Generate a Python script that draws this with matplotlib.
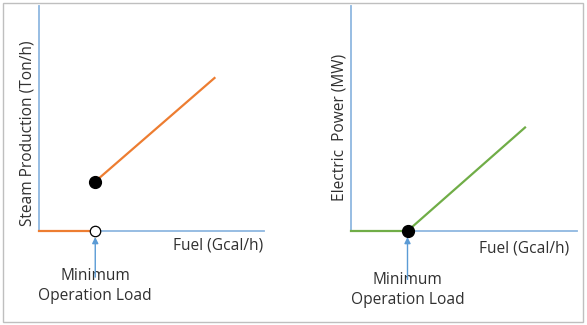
import matplotlib.pyplot as plt
from matplotlib.patches import Rectangle

plt.rcParams['font.family'] = ['Open Sans', 'DejaVu Sans']

# steam boiler: below minimum load there is no steam, then it jumps
steam_off_fuel = [0, 2.5]
steam_off_value = [0, 0]
steam_on_fuel = [2.5, 7.8]
steam_on_value = [2.2, 6.8]

# turbine: electric power starts from zero at minimum load
power_fuel = [0, 2.5, 7.7]
power_value = [0, 0, 4.6]

min_load = 2.5

orange = '#ED7D31'
green = '#70AD47'
axis_blue = '#8FB8E0'
arrow_blue = '#5B9BD5'
text_color = '#303030'
fs = 11.2

fig = plt.figure(figsize=(5.87, 3.25), dpi=100)
fig.patches.append(Rectangle((3 / 587, 3 / 325), 580 / 587, 319 / 325, transform=fig.transFigure,
                             fill=False, edgecolor='#BFBFBF', lw=1.0))

ax1 = fig.add_axes([39 / 587, 94 / 325, 225 / 587, 225 / 325])
ax2 = fig.add_axes([351 / 587, 94 / 325, 226 / 587, 225 / 325])


def style_axes(ax):
    ax.set_xlim(0, 10)
    ax.set_ylim(0, 10)
    for s in ['top', 'right']:
        ax.spines[s].set_visible(False)
    for s in ['left', 'bottom']:
        ax.spines[s].set_color(axis_blue)
        ax.spines[s].set_linewidth(1.3)
    ax.set_xticks([])
    ax.set_yticks([])
    ax.patch.set_alpha(0)


def min_load_label(ax, text_y, tail_y):
    ax.text(min_load, text_y, 'Minimum\nOperation Load', transform=ax.get_xaxis_transform(),
            ha='center', va='top', fontsize=fs, color=text_color, linespacing=1.3, zorder=2)
    ax.annotate('', xy=(min_load, -0.027), xytext=(min_load, tail_y),
                xycoords=('data', 'axes fraction'), textcoords=('data', 'axes fraction'),
                arrowprops=dict(arrowstyle='-|>', color=arrow_blue, lw=1.0, mutation_scale=9,
                                shrinkA=0, shrinkB=0), annotation_clip=False, zorder=3)


# left panel: steam production
style_axes(ax1)
ax1.plot(steam_off_fuel, steam_off_value, color=orange, lw=1.6, clip_on=False, zorder=3)
ax1.plot(steam_on_fuel, steam_on_value, color=orange, lw=1.6, zorder=3)
ax1.plot([steam_on_fuel[0]], [steam_on_value[0]], 'o', color='black', ms=8.5, zorder=4)
ax1.plot([steam_off_fuel[-1]], [steam_off_value[-1]], 'o', mfc='white', mec='black', mew=0.9,
         ms=7.5, clip_on=False, zorder=4)
ax1.text(0.995, -0.063, 'Fuel (Gcal/h)', transform=ax1.transAxes, ha='right', va='center',
         fontsize=fs, color=text_color)
ax1.text(-0.053, 0.436, 'Steam Production (Ton/h)', transform=ax1.transAxes, ha='center',
         va='center', rotation=90, fontsize=fs, color=text_color)
min_load_label(ax1, -0.165, -0.205)

# right panel: electric power
style_axes(ax2)
ax2.plot(power_fuel, power_value, color=green, lw=1.6, clip_on=False, zorder=3)
ax2.plot([power_fuel[1]], [power_value[1]], 'o', color='black', ms=8.5, clip_on=False, zorder=4)
ax2.text(0.965, -0.077, 'Fuel (Gcal/h)', transform=ax2.transAxes, ha='right', va='center',
         fontsize=fs, color=text_color)
ax2.text(-0.053, 0.462, 'Electric  Power (MW)', transform=ax2.transAxes, ha='center',
         va='center', rotation=90, fontsize=fs, color=text_color)
min_load_label(ax2, -0.183, -0.215)

fig.savefig('out.png', dpi=100)
